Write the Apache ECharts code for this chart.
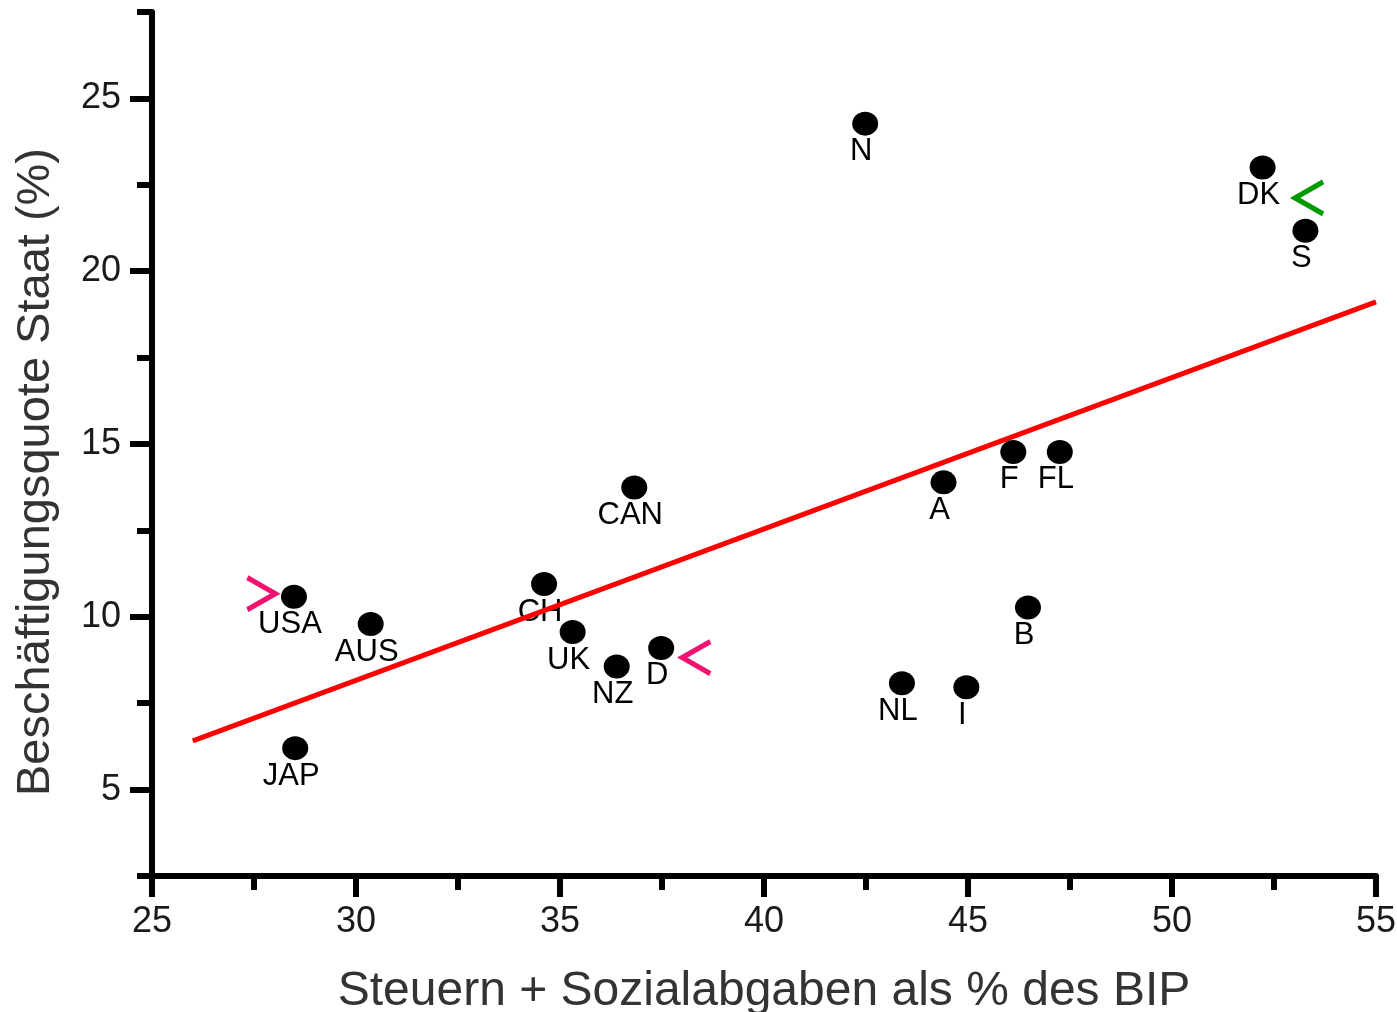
<!DOCTYPE html>
<html>
<head>
<meta charset="utf-8">
<script src="https://cdn.jsdelivr.net/npm/echarts@6/dist/echarts.min.js"></script>
<style>
html,body{margin:0;padding:0;background:#fff;}
#chart{width:1397px;height:1012px;}
</style>
</head>
<body>
<div id="chart"></div>
<script>
// ---- data ----
const countries = ['USA','AUS','JAP','CH','UK','NZ','D','CAN','N','NL','I','A','F','FL','B','DK','S'];
const taxShare  = [28.48,30.36,28.51,34.61,35.31,36.39,37.48,36.82,42.48,43.38,44.96,44.40,46.11,47.25,46.47,52.22,53.27];
const govEmploy = [10.58, 9.79, 6.20,10.95, 9.56, 8.56, 9.10,13.74,24.27, 8.08, 7.96,13.89,14.77,14.77,10.27,23.00,21.17];

const trendX = [26, 55];
const trendY = [6.41, 19.11];

const markerNames = ['USA', 'D', 'DK/S'];
const markerX = [27.68, 38.34, 53.36];
const markerY = [10.67, 8.82, 22.12];
const markerDir = ['right', 'left', 'left'];

const xTicks = ['25','27.5','30','32.5','35','37.5','40','42.5','45','47.5','50','52.5','55'];
const yTicks = ['2.5','5','7.5','10','12.5','15','17.5','20','22.5','25','27.5'];

const xTitle = 'Steuern + Sozialabgaben als % des BIP';
const yTitle = 'Beschäftigungsquote Staat (%)';

// ---- build ----
const FONT = "'Liberation Sans', Arial, sans-serif";
const pts = countries.map((c, i) => ({ name: c, value: [taxShare[i], govEmploy[i]] }));
const trend = trendX.map((x, i) => [x, trendY[i]]);
const pink = '#f01470', green = '#009a00';
const chevR = 'path://M0,0L30,17L0,34';
const chevL = 'path://M30,0L0,17L30,34';
const chevrons = markerNames.map((n, i) => ({
  name: n, value: [markerX[i], markerY[i]],
  symbol: markerDir[i] === 'right' ? chevR : chevL,
  itemStyle: { color: 'transparent', borderColor: i === 2 ? green : pink, borderWidth: 5, opacity: 1 }
}));

const axisLineStyle = { color: '#000', width: 6 };

const chart = echarts.init(document.getElementById('chart'), null, { renderer: 'canvas' });
chart.setOption({
  backgroundColor: '#fff',
  animation: false,
  grid: { left: 152, right: 21, top: 12, bottom: 136, containLabel: false, outerBoundsMode: 'none' },
  xAxis: [
    {
      type: 'value', min: 25, max: 55, interval: 2.5, position: 'bottom',
      axisLine: { show: true, onZero: false, lineStyle: axisLineStyle },
      axisTick: { show: true, length: 14, lineStyle: axisLineStyle },
      axisLabel: { formatter: v => (v % 5 === 0 ? String(v) : ''), margin: 28, fontSize: 36, color: '#1a1a1a', fontFamily: FONT },
      splitLine: { show: false },
      name: xTitle, nameLocation: 'middle', nameGap: 92,
      nameTextStyle: { fontSize: 48, color: '#333', fontFamily: FONT }
    },
    {
      type: 'category', data: xTicks, boundaryGap: false, position: 'bottom',
      axisLine: { show: false },
      axisTick: { show: true, length: 21, interval: (i) => i % 2 === 0, lineStyle: axisLineStyle },
      axisLabel: { show: false }, splitLine: { show: false }
    }
  ],
  yAxis: [
    {
      type: 'value', min: 2.5, max: 27.5, interval: 2.5, position: 'left',
      axisLine: { show: true, onZero: false, lineStyle: axisLineStyle },
      axisTick: { show: true, length: 15, lineStyle: axisLineStyle },
      axisLabel: { formatter: v => (v % 5 === 0 ? String(v) : ''), margin: 31, fontSize: 36, color: '#1a1a1a', fontFamily: FONT },
      splitLine: { show: false },
      name: yTitle, nameLocation: 'middle', nameGap: 92,
      nameTextStyle: { fontSize: 47, color: '#333', fontFamily: FONT, padding: [0, 56, 0, 0] }
    },
    {
      type: 'category', data: yTicks, boundaryGap: false, position: 'left',
      axisLine: { show: false },
      axisTick: { show: true, length: 22, interval: (i) => i % 2 === 1, lineStyle: axisLineStyle },
      axisLabel: { show: false }, splitLine: { show: false }
    }
  ],
  series: [
    {
      name: 'labels', type: 'scatter', xAxisIndex: 0, yAxisIndex: 0, z: 1,
      data: pts, symbolSize: [25, 23], itemStyle: { color: 'transparent', opacity: 1 },
      label: { show: true, position: 'bottom', distance: 1, offset: [-4, 0],
        formatter: p => p.name, fontSize: 31, color: '#000', fontFamily: FONT }
    },
    {
      name: 'trend', type: 'line', xAxisIndex: 0, yAxisIndex: 0, z: 2,
      data: trend, showSymbol: false, symbol: 'none',
      lineStyle: { color: '#ff0000', width: 5 }
    },
    {
      name: 'countries', type: 'scatter', xAxisIndex: 0, yAxisIndex: 0, z: 3,
      data: pts, symbol: 'circle', symbolSize: [26, 24], itemStyle: { color: '#000', opacity: 1 }
    },
    {
      name: 'arrows', type: 'scatter', xAxisIndex: 0, yAxisIndex: 0, z: 3,
      data: chevrons, symbolSize: [28, 32]
    }
  ]
});
</script>
</body>
</html>
